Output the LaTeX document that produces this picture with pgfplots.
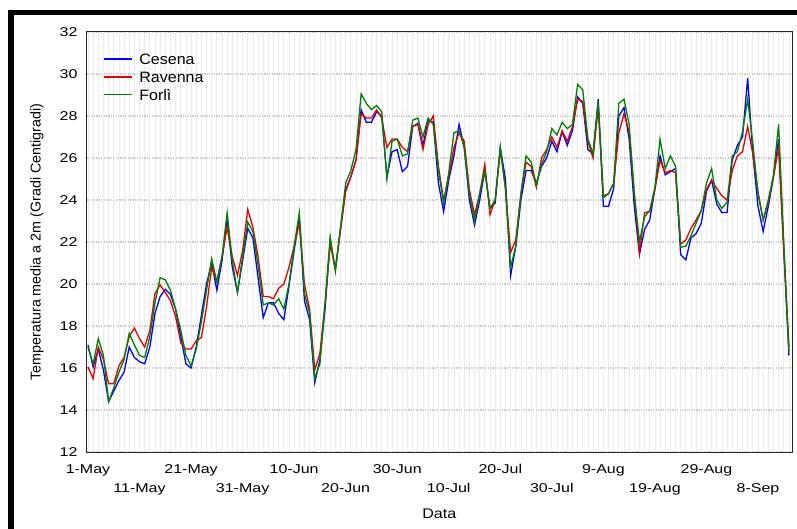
\documentclass[border=0pt]{standalone}
\usepackage{fontspec}
\setmainfont{Liberation Sans}
\newfontfamily\tickfont[FakeStretch=1.25]{Liberation Sans}
\newfontfamily\legendfont[FakeStretch=1.07]{Liberation Sans}
\newfontfamily\xlabelfont[FakeStretch=1.15]{Liberation Sans}
\usepackage{pgfplots}
\usepackage{pgfplotstable}
\pgfplotsset{compat=1.18}

\definecolor{cesena}{RGB}{0,0,255}
\definecolor{ravenna}{RGB}{230,0,0}
\definecolor{forli}{RGB}{0,128,0}

% daily mean temperature at 2 m, day 0 = 1 May
\pgfplotstableread{
day cesena ravenna forli
0 17.10 16.05 17.00
1 16.05 15.50 16.20
2 16.90 17.00 17.40
3 15.90 16.40 16.60
4 14.40 15.25 14.40
5 14.90 15.25 15.05
6 15.40 16.10 15.80
7 15.80 16.50 16.40
8 17.00 17.50 17.65
9 16.50 17.90 17.10
10 16.30 17.40 16.60
11 16.20 17.00 16.50
12 17.00 17.80 17.50
13 18.60 19.55 19.10
14 19.40 19.95 20.30
15 19.75 19.60 20.20
16 19.50 19.20 19.70
17 18.80 18.45 18.80
18 17.50 17.20 17.80
19 16.20 16.90 16.60
20 16.00 16.90 16.10
21 17.00 17.30 16.90
22 18.50 17.45 18.20
23 20.00 18.90 19.70
24 21.00 20.80 21.20
25 19.70 20.10 20.10
26 21.10 21.30 21.30
27 23.10 22.70 23.40
28 20.80 21.30 21.10
29 19.60 20.40 19.60
30 21.10 21.60 21.30
31 22.65 23.55 22.95
32 22.20 22.70 22.50
33 20.30 21.30 20.90
34 18.40 19.40 19.00
35 19.10 19.40 19.10
36 19.10 19.30 19.00
37 18.60 19.80 19.30
38 18.30 20.00 18.80
39 19.90 20.80 20.00
40 21.60 21.80 21.80
41 23.20 22.90 23.40
42 19.20 20.00 19.55
43 18.30 18.80 18.60
44 15.30 15.90 15.50
45 16.40 16.70 16.20
46 18.80 19.10 19.10
47 22.10 21.90 22.25
48 20.70 20.70 20.60
49 22.60 22.60 22.70
50 24.50 24.40 24.80
51 25.10 25.10 25.40
52 25.90 25.90 26.40
53 28.30 28.10 29.05
54 27.70 27.90 28.60
55 27.70 27.90 28.30
56 28.20 28.30 28.50
57 28.00 27.90 28.20
58 25.10 26.50 25.00
59 26.30 26.90 26.80
60 26.40 26.90 26.90
61 25.35 26.50 26.10
62 25.60 26.30 26.20
63 27.50 27.50 27.80
64 27.65 27.60 27.90
65 26.60 26.40 27.00
66 27.80 27.60 27.90
67 27.70 28.00 27.60
68 24.80 25.60 25.40
69 23.45 24.00 23.85
70 24.95 25.10 25.30
71 26.10 26.50 27.20
72 27.60 27.20 27.30
73 26.50 26.80 26.50
74 24.00 24.50 24.30
75 22.80 23.30 23.00
76 24.00 24.30 24.30
77 25.40 25.70 25.40
78 23.60 23.30 23.60
79 23.85 24.00 24.00
80 26.50 26.40 26.50
81 25.00 24.60 24.50
82 20.40 21.50 20.80
83 21.80 22.10 21.80
84 24.00 24.30 24.30
85 25.40 25.80 26.10
86 25.40 25.60 25.80
87 24.80 24.60 24.70
88 25.60 26.00 25.70
89 26.00 26.40 26.30
90 26.80 27.00 27.40
91 26.30 26.50 27.10
92 27.25 27.30 27.70
93 26.60 26.80 27.40
94 27.30 27.50 27.60
95 28.90 28.80 29.50
96 28.60 28.70 29.25
97 26.40 26.80 26.90
98 26.20 26.00 26.20
99 28.80 28.40 28.70
100 23.70 24.20 24.10
101 23.70 24.30 24.30
102 24.55 24.80 24.80
103 28.00 27.20 28.60
104 28.40 28.10 28.80
105 26.90 27.25 27.60
106 23.70 24.30 24.30
107 21.40 21.50 22.00
108 22.60 23.40 23.20
109 23.05 23.45 23.50
110 24.55 24.50 24.60
111 26.10 25.90 26.90
112 25.20 25.30 25.50
113 25.35 25.40 26.10
114 25.50 25.30 25.60
115 21.40 21.90 21.75
116 21.15 22.10 21.80
117 22.20 22.65 22.30
118 22.40 23.05 22.90
119 22.90 23.50 23.50
120 24.40 24.50 24.80
121 24.95 24.95 25.50
122 23.80 24.55 24.00
123 23.40 24.20 23.60
124 23.40 24.00 23.90
125 25.90 25.40 26.10
126 26.60 26.10 26.30
127 27.00 26.30 27.25
128 29.80 27.50 28.80
129 26.20 26.20 26.70
130 23.70 24.40 24.30
131 22.50 23.05 23.05
132 23.70 23.90 24.00
133 25.10 25.10 25.20
134 26.90 26.50 27.60
135 21.75 21.50 22.00
136 16.60 17.00 16.80
}\temps

\begin{document}
\begin{tikzpicture}
% outer frame
\begin{scope}
\clip (0,0) rectangle (797bp,529bp);
\draw[line width=5.6bp, black] (11bp,516.3bp) rectangle (900bp,-200bp);
\end{scope}
\begin{axis}[
  at={(86.7bp,77bp)}, anchor=south west,
  scale only axis, width=705.3bp, height=420bp,
  xmin=-0.25, xmax=136.6, ymin=12, ymax=32,
  ytick={12,14,...,32},
  xtick={0,20,...,120},
  xticklabels={1-May,21-May,10-Jun,30-Jun,20-Jul,9-Aug,29-Aug},
  extra x ticks={10,30,...,130},
  extra x tick labels={11-May,31-May,20-Jun,10-Jul,30-Jul,19-Aug,8-Sep},
  extra x tick style={xticklabel style={yshift=-19bp}},
  minor xtick={0,1,...,136},
  xminorgrids=true, ymajorgrids=true,
  major tick length=0pt, minor tick length=0pt,
  axis line style={line width=1bp, black!85},
  minor grid style={line width=0.8bp, color=black!13, dash pattern=on 1bp off 1bp},
  major grid style={line width=1.4bp, color=black!20, dash pattern=on 1.2bp off 1.2bp},
  /pgf/number format/assume math mode=true,
  yticklabel style={font=\tickfont\fontsize{12.8bp}{14bp}\selectfont, anchor=east, inner sep=0pt, xshift=-9bp},
  xticklabel style={font=\tickfont\fontsize{12.8bp}{14bp}\selectfont, anchor=base, inner sep=0pt, yshift=-21.5bp},
  xlabel={Data},
  ylabel={Temperatura media a 2m (Gradi Centigradi)},
  every axis x label/.style={at={(axis description cs:0.5,0)}, anchor=base, yshift=-66.3bp, inner sep=0pt, font=\xlabelfont\fontsize{14bp}{16bp}\selectfont},
  every axis y label/.style={at={(axis description cs:0,0.5)}, xshift=-49.7bp, rotate=90, anchor=center, inner sep=0pt, font=\fontsize{14.3bp}{16bp}\selectfont},
  legend cell align=left,
  legend image code/.code={\draw[#1] (0bp,5.3bp) -- (28bp,5.3bp);},
  legend style={at={(axis description cs:0,1)}, anchor=north west, xshift=16.3bp, yshift=-21.3bp,
    draw=none, fill=none, inner sep=0pt, outer sep=0pt, row sep=0pt,
    font=\legendfont\fontsize{15bp}{18bp}\selectfont,
    nodes={inner sep=0pt, text height=11bp, text depth=6.9bp, anchor=base west},
    /tikz/every odd column/.append style={column sep=7bp}},
  every axis plot/.append style={line width=1.3bp},
]
\addplot[color=cesena] table[x=day, y=cesena] {\temps};
\addlegendentry{Cesena}
\addplot[color=ravenna] table[x=day, y=ravenna] {\temps};
\addlegendentry{Ravenna}
\addplot[color=forli] table[x=day, y=forli] {\temps};
\addlegendentry{Forlì}
\end{axis}
\pgfresetboundingbox
\path[use as bounding box] (0,0) rectangle (797bp,529bp);
\end{tikzpicture}
\end{document}
